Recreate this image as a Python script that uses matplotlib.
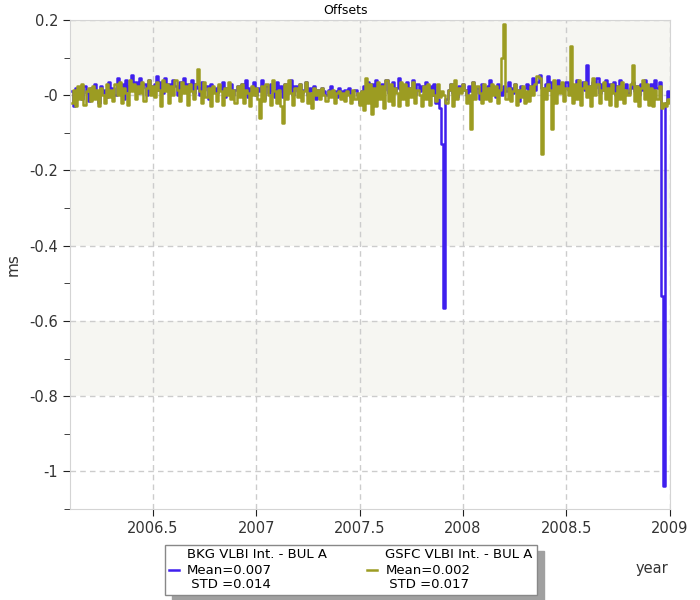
import matplotlib
matplotlib.use("Agg")
import matplotlib.pyplot as plt
from matplotlib.ticker import MultipleLocator, FuncFormatter

# session epochs (decimal year), shared by both solutions
epochs = [
    2006.11, 2006.12, 2006.13, 2006.14, 2006.15, 2006.16, 2006.17, 2006.18, 2006.19, 2006.20,
    2006.21, 2006.22, 2006.23, 2006.24, 2006.25, 2006.26, 2006.27, 2006.28, 2006.29, 2006.30,
    2006.31, 2006.32, 2006.33, 2006.34, 2006.35, 2006.36, 2006.37, 2006.38, 2006.39, 2006.40,
    2006.41, 2006.42, 2006.43, 2006.44, 2006.45, 2006.46, 2006.47, 2006.48, 2006.49, 2006.50,
    2006.51, 2006.52, 2006.53, 2006.54, 2006.55, 2006.56, 2006.57, 2006.58, 2006.59, 2006.60,
    2006.61, 2006.62, 2006.63, 2006.64, 2006.65, 2006.66, 2006.67, 2006.68, 2006.69, 2006.70,
    2006.71, 2006.72, 2006.73, 2006.74, 2006.75, 2006.76, 2006.77, 2006.78, 2006.79, 2006.80,
    2006.81, 2006.82, 2006.83, 2006.84, 2006.85, 2006.86, 2006.87, 2006.88, 2006.89, 2006.90,
    2006.91, 2006.92, 2006.93, 2006.94, 2006.95, 2006.96, 2006.97, 2006.98, 2006.99, 2007.00,
    2007.01, 2007.02, 2007.03, 2007.04, 2007.05, 2007.06, 2007.07, 2007.08, 2007.09, 2007.10,
    2007.11, 2007.12, 2007.13, 2007.14, 2007.15, 2007.16, 2007.17, 2007.18, 2007.19, 2007.20,
    2007.21, 2007.22, 2007.23, 2007.24, 2007.25, 2007.26, 2007.27, 2007.28, 2007.29, 2007.30,
    2007.31, 2007.32, 2007.33, 2007.34, 2007.35, 2007.36, 2007.37, 2007.38, 2007.39, 2007.40,
    2007.41, 2007.42, 2007.43, 2007.44, 2007.45, 2007.46, 2007.47, 2007.48, 2007.49, 2007.50,
    2007.51, 2007.52, 2007.53, 2007.54, 2007.55, 2007.56, 2007.57, 2007.58, 2007.59, 2007.60,
    2007.61, 2007.62, 2007.63, 2007.64, 2007.65, 2007.66, 2007.67, 2007.68, 2007.69, 2007.70,
    2007.71, 2007.72, 2007.73, 2007.74, 2007.75, 2007.76, 2007.77, 2007.78, 2007.79, 2007.80,
    2007.81, 2007.82, 2007.83, 2007.84, 2007.85, 2007.86, 2007.87, 2007.88, 2007.89, 2007.90,
    2007.91, 2007.92, 2007.93, 2007.94, 2007.95, 2007.96, 2007.97, 2007.98, 2007.99, 2008.00,
    2008.01, 2008.02, 2008.03, 2008.04, 2008.05, 2008.06, 2008.07, 2008.08, 2008.09, 2008.10,
    2008.11, 2008.12, 2008.13, 2008.14, 2008.15, 2008.16, 2008.17, 2008.18, 2008.19, 2008.20,
    2008.21, 2008.22, 2008.23, 2008.24, 2008.25, 2008.26, 2008.27, 2008.28, 2008.29, 2008.30,
    2008.31, 2008.32, 2008.33, 2008.34, 2008.35, 2008.36, 2008.37, 2008.38, 2008.39, 2008.40,
    2008.41, 2008.42, 2008.43, 2008.44, 2008.45, 2008.46, 2008.47, 2008.48, 2008.49, 2008.50,
    2008.51, 2008.52, 2008.53, 2008.54, 2008.55, 2008.56, 2008.57, 2008.58, 2008.59, 2008.60,
    2008.61, 2008.62, 2008.63, 2008.64, 2008.65, 2008.66, 2008.67, 2008.68, 2008.69, 2008.70,
    2008.71, 2008.72, 2008.73, 2008.74, 2008.75, 2008.76, 2008.77, 2008.78, 2008.79, 2008.80,
    2008.81, 2008.82, 2008.83, 2008.84, 2008.85, 2008.86, 2008.87, 2008.88, 2008.89, 2008.90,
    2008.91, 2008.92, 2008.93, 2008.94, 2008.95, 2008.96, 2008.97, 2008.98, 2008.99, 2009.00,
]

# BKG VLBI Int. - BUL A offsets (ms)
bkg = [
    0.010, -0.030, 0.020, 0.000, 0.015, -0.010, 0.025, 0.005, -0.015, 0.020,
    0.000, 0.030, 0.010, -0.020, 0.025, 0.005, 0.015, -0.005, 0.035, 0.010,
    0.020, 0.000, 0.045, 0.015, 0.030, -0.010, 0.040, 0.010, 0.025, 0.055,
    0.015, 0.035, 0.005, 0.045, 0.020, 0.030, 0.000, 0.040, 0.010, 0.025,
    0.030, 0.050, 0.015, 0.035, 0.005, 0.045, 0.020, 0.030, 0.010, 0.040,
    0.025, 0.000, 0.035, 0.015, 0.045, 0.010, 0.030, 0.020, 0.040, 0.005,
    0.030, 0.020, 0.000, 0.035, 0.015, 0.025, -0.010, 0.030, 0.010, 0.020,
    0.005, 0.025, 0.015, 0.035, -0.005, 0.020, 0.010, 0.030, 0.000, 0.015,
    0.025, 0.005, 0.030, 0.010, 0.040, -0.005, 0.020, 0.015, 0.035, 0.000,
    0.020, 0.010, 0.040, -0.010, 0.025, 0.005, 0.030, 0.015, -0.005, 0.035,
    0.010, 0.025, -0.005, 0.030, 0.005, 0.020, 0.040, 0.000, 0.025, 0.010,
    0.030, 0.005, 0.015, 0.035, 0.000, 0.020, 0.010, 0.025, -0.010, 0.015,
    0.005, 0.020, 0.010, 0.000, 0.015, 0.025, 0.005, 0.010, -0.005, 0.020,
    0.010, 0.000, 0.015, 0.005, 0.020, -0.005, 0.010, 0.015, 0.000, -0.020,
    0.010, 0.025, 0.000, 0.035, 0.015, 0.030, 0.005, 0.040, 0.020, 0.010,
    0.030, 0.015, 0.040, 0.005, 0.025, 0.035, 0.010, 0.020, 0.045, 0.015,
    0.025, 0.005, 0.035, 0.015, 0.020, 0.040, 0.000, 0.030, 0.010, 0.025,
    0.015, 0.035, 0.005, 0.025, 0.000, 0.030, -0.020, -0.010, -0.035, -0.130,
    -0.565, -0.010, 0.015, 0.030, 0.005, 0.020, -0.005, 0.025, 0.010, 0.030,
    0.015, 0.000, 0.025, 0.010, 0.035, 0.005, 0.020, -0.010, 0.030, 0.015,
    0.005, 0.025, 0.040, 0.010, 0.020, -0.005, 0.030, 0.015, 0.000, 0.025,
    0.010, 0.035, 0.020, 0.005, 0.030, 0.015, -0.015, 0.025, 0.010, 0.020,
    0.030, 0.005, 0.025, 0.045, 0.015, 0.035, 0.055, 0.020, 0.010, 0.030,
    0.050, 0.015, 0.035, 0.005, 0.025, 0.040, 0.010, 0.030, 0.020, 0.035,
    0.015, 0.030, 0.005, 0.025, 0.040, 0.010, 0.020, 0.035, 0.015, 0.080,
    0.025, 0.010, 0.035, 0.020, 0.045, 0.005, 0.030, 0.015, 0.040, 0.010,
    0.030, 0.015, 0.035, 0.000, 0.025, 0.040, 0.010, 0.020, 0.030, 0.005,
    0.020, 0.035, 0.010, 0.025, 0.000, 0.030, 0.015, 0.040, 0.020, 0.005,
    0.030, 0.015, 0.040, 0.020, 0.035, -0.535, -1.040, -0.020, 0.010, -0.005,
]

# GSFC VLBI Int. - BUL A offsets (ms)
gsfc = [
    -0.020, 0.015, -0.030, 0.025, -0.010, 0.030, -0.025, 0.010, 0.020, -0.015,
    0.025, -0.010, 0.015, -0.030, 0.020, 0.000, -0.020, 0.030, -0.005, 0.015,
    -0.015, 0.030, 0.000, 0.035, -0.020, 0.020, 0.005, -0.025, 0.040, 0.010,
    0.030, -0.010, 0.025, 0.005, 0.035, -0.015, 0.020, 0.040, 0.000, 0.025,
    -0.005, 0.035, 0.015, -0.030, 0.040, 0.010, 0.030, -0.020, 0.025, 0.000,
    0.040, 0.015, -0.015, 0.035, 0.005, 0.025, -0.025, 0.030, 0.010, -0.010,
    0.030, 0.070, 0.010, -0.020, 0.035, -0.005, 0.020, -0.030, 0.025, 0.005,
    -0.015, 0.030, 0.010, -0.025, 0.020, 0.000, 0.035, -0.010, 0.015, -0.020,
    0.025, -0.005, 0.030, -0.020, 0.015, 0.005, -0.030, 0.025, 0.000, 0.020,
    -0.010, -0.060, 0.025, -0.015, 0.030, 0.000, -0.025, 0.040, 0.010, -0.020,
    0.015, -0.030, -0.075, 0.030, -0.010, 0.040, 0.005, -0.025, 0.020, -0.005,
    0.030, -0.015, 0.010, 0.035, -0.020, 0.005, -0.035, 0.020, 0.000, 0.015,
    -0.010, 0.020, 0.000, -0.015, 0.010, -0.005, 0.015, -0.020, 0.005, 0.010,
    -0.010, 0.005, -0.015, 0.010, 0.000, -0.020, 0.015, -0.010, 0.005, -0.025,
    0.010, -0.040, 0.045, -0.020, 0.030, -0.050, 0.020, -0.030, 0.035, -0.010,
    0.025, -0.035, 0.040, -0.015, 0.030, -0.025, 0.020, 0.005, -0.030, 0.035,
    -0.010, 0.030, -0.025, 0.020, -0.005, 0.035, -0.020, 0.015, 0.000, -0.030,
    0.025, -0.010, 0.030, -0.025, 0.015, 0.000, -0.015, 0.030, -0.005, 0.010,
    0.000, -0.020, 0.015, 0.030, -0.030, 0.040, -0.010, 0.020, 0.005, 0.030,
    0.015, -0.020, 0.000, -0.090, 0.035, -0.010, 0.025, 0.005, -0.020, 0.030,
    -0.010, 0.020, -0.015, 0.030, 0.000, 0.025, -0.020, 0.015, 0.100, 0.190,
    -0.010, 0.020, -0.015, 0.010, 0.030, -0.025, 0.015, -0.005, 0.025, -0.020,
    0.010, -0.015, 0.025, 0.000, 0.030, 0.050, 0.045, -0.155, 0.020, -0.010,
    0.030, 0.015, -0.090, 0.040, -0.020, 0.025, 0.005, 0.035, -0.015, 0.020,
    0.000, 0.130, -0.020, 0.030, -0.010, 0.040, -0.025, 0.020, 0.035, -0.005,
    0.025, -0.030, 0.045, 0.000, 0.030, -0.020, 0.015, 0.035, -0.010, 0.020,
    -0.025, 0.030, 0.005, -0.030, 0.025, -0.010, 0.035, -0.020, 0.015, 0.000,
    0.030, 0.080, -0.015, 0.025, -0.030, 0.020, 0.040, -0.010, 0.030, -0.025,
    0.020, -0.030, 0.015, -0.010, 0.025, -0.035, -0.020, -0.030, -0.010, -0.020,
]

labels = ["BKG VLBI Int. - BUL A\nMean=0.007\n STD =0.014",
          "GSFC VLBI Int. - BUL A\nMean=0.002\n STD =0.017"]
colors = ["#3f1fee", "#9c9c22"]

fig = plt.figure(figsize=(7, 6), dpi=100)
ax = fig.add_axes([0.1, 0.1517, 0.857, 0.815])

for lo, hi in [(0, 0.2), (-0.4, -0.2), (-0.8, -0.6)]:
    ax.axhspan(lo, hi, color="#f6f6f2", zorder=0, lw=0)

ax.plot(epochs, bkg, color=colors[0], lw=1.8, drawstyle="steps-mid", label=labels[0], zorder=3)
ax.plot(epochs, gsfc, color=colors[1], lw=1.8, drawstyle="steps-mid", label=labels[1], zorder=4)

ax.set_xlim(2006.1, 2009.0)
ax.set_ylim(-1.1, 0.2)
ax.xaxis.set_major_locator(MultipleLocator(0.5))
ax.yaxis.set_major_locator(MultipleLocator(0.2))
ax.yaxis.set_minor_locator(MultipleLocator(0.1))
ax.yaxis.set_major_formatter(FuncFormatter(lambda v, p: "-0" if abs(v) < 1e-9 else "%g" % round(v, 1)))
ax.xaxis.set_major_formatter(FuncFormatter(lambda v, p: "%g" % round(v, 1)))

ax.grid(True, which="major", ls=(0, (4, 3)), color="#cccccc", lw=1)
ax.set_axisbelow(True)
for s in ax.spines.values():
    s.set_color("#d4d4d4")
ax.tick_params(axis="both", which="major", length=5, color="#222222", labelsize=10.5,
               labelcolor="#333333")
ax.tick_params(axis="y", which="minor", length=4, color="#222222")

ax.set_ylabel("ms", fontsize=11, color="#333333")
ax.yaxis.set_label_coords(-0.082, 0.5)
fig.text(652 / 700, 1 - 568 / 600, "year", ha="center", va="center", fontsize=10.5, color="#333333")
fig.text(0.493, 1 - 10 / 600, "Offsets", ha="center", va="center", fontsize=9)

leg = fig.legend(loc="center", bbox_to_anchor=(0.501, 0.05), ncol=2, fontsize=9.5,
                 handlelength=0.8, handletextpad=0.6, columnspacing=3.0, borderpad=0.3,
                 frameon=True, fancybox=False, edgecolor="#888888",
                 shadow={"ox": 5, "oy": -5, "color": "#a0a0a0", "alpha": 1})
leg.get_frame().set_linewidth(1)

fig.savefig("out.png", dpi=100)
